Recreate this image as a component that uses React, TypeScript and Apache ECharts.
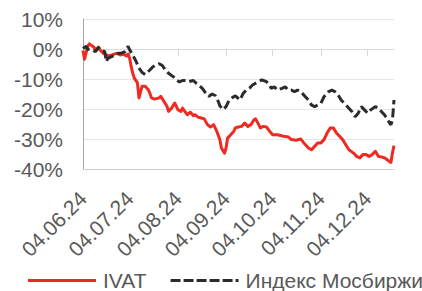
import React, { useEffect, useRef } from "react";
import * as echarts from "echarts";

// Calendar axis: every day from 04.06.24 to 21.12.24
const axisStart = [2024, 5, 4];
const axisDays = 201;
const tickLabels = ["04.06.24", "04.07.24", "04.08.24", "04.09.24", "04.10.24", "04.11.24", "04.12.24"];

// IVAT: day offset from 04.06.24 and change, %
const ivatDay = [0, 1, 3, 4, 6, 7, 8, 10, 11, 13, 15, 17, 20, 22, 24, 26, 28, 29, 30, 31, 32, 33, 35, 36, 38, 40, 42, 43, 44, 46, 49, 50, 52, 54, 55, 57, 59, 61, 63, 64, 67, 69, 71, 72, 74, 76, 78, 80, 82, 84, 85, 86, 88, 89, 91, 92, 93, 95, 97, 98, 100, 102, 104, 106, 108, 110, 111, 113, 114, 116, 118, 120, 122, 125, 129, 132, 134, 137, 140, 142, 145, 147, 149, 151, 153, 155, 157, 159, 161, 163, 165, 167, 169, 171, 174, 176, 178, 180, 182, 184, 186, 188, 190, 192, 194, 196, 198, 199, 200];
const ivatPct = [-0.5, -3.4, 0.8, 1.7, 1.0, 0.6, -0.3, 0.6, -0.3, -1.4, -2.0, -2.3, -1.7, -1.4, -2.0, -1.7, -2.3, -1.7, -3.1, -5.9, -8.1, -9.7, -11.3, -16.3, -12.4, -12.4, -13.6, -14.7, -16.3, -16.7, -16.3, -15.8, -17.4, -19.1, -20.8, -19.7, -18.0, -20.2, -20.8, -19.7, -21.9, -21.1, -22.2, -21.9, -22.7, -23.0, -23.3, -25.2, -26.0, -25.2, -26.3, -27.4, -30.2, -33.0, -34.7, -33.0, -29.7, -28.6, -27.4, -26.3, -26.0, -25.8, -24.7, -25.8, -25.2, -23.6, -23.3, -25.2, -26.3, -25.8, -26.0, -27.4, -28.6, -28.6, -29.1, -29.3, -30.2, -30.4, -30.0, -31.3, -33.0, -33.6, -32.4, -31.3, -31.3, -30.2, -28.0, -26.3, -26.3, -28.0, -29.1, -30.2, -31.9, -33.6, -34.7, -35.8, -36.3, -35.2, -35.2, -35.8, -35.2, -34.1, -35.8, -36.0, -36.3, -37.1, -37.8, -34.7, -32.2];

// Индекс Мосбиржи: day offset from 04.06.24 and change, %
const moexDay = [0, 2, 3, 6, 8, 10, 12, 14, 15, 16, 18, 21, 23, 25, 27, 29, 30, 32, 34, 36, 38, 40, 43, 45, 47, 49, 51, 53, 55, 58, 60, 62, 64, 66, 68, 71, 73, 75, 77, 79, 81, 83, 85, 87, 88, 90, 92, 94, 96, 98, 101, 103, 105, 107, 109, 111, 113, 115, 118, 120, 121, 123, 125, 128, 130, 132, 134, 136, 138, 140, 143, 145, 147, 149, 151, 153, 155, 158, 160, 162, 164, 166, 168, 170, 173, 175, 177, 179, 181, 183, 185, 188, 190, 192, 194, 196, 198, 199, 200];
const moexPct = [0.2, 0.9, -0.1, -0.3, -0.9, 0.5, -0.3, -0.9, -4.2, -3.1, -2.6, -2.0, -1.4, -1.3, -0.9, 0.9, -0.3, -2.0, -4.0, -6.4, -7.8, -8.5, -7.0, -5.9, -5.3, -4.9, -5.5, -7.0, -8.1, -9.2, -10.3, -11.0, -10.5, -10.5, -10.9, -10.5, -11.5, -12.3, -13.3, -14.8, -15.8, -15.0, -15.5, -17.5, -18.9, -20.2, -19.2, -17.0, -16.2, -15.6, -17.0, -14.8, -13.7, -13.1, -12.0, -11.4, -10.9, -10.3, -10.9, -12.0, -13.1, -12.6, -13.7, -13.1, -12.6, -13.7, -13.7, -14.2, -13.7, -14.2, -15.9, -17.0, -18.7, -19.2, -18.7, -18.1, -15.9, -14.2, -13.7, -14.2, -15.3, -17.0, -18.1, -19.2, -20.9, -22.6, -21.4, -19.2, -20.3, -21.4, -20.3, -19.2, -19.8, -20.9, -22.0, -23.7, -25.3, -23.7, -17.0];

const yTicks = { min: -40, max: 10, interval: 10 };

function buildCategories(): string[] {
  const out: string[] = [];
  for (let i = 0; i < axisDays; i++) {
    const d = new Date(axisStart[0], axisStart[1], axisStart[2] + i);
    const dd = String(d.getDate()).padStart(2, "0");
    const mm = String(d.getMonth() + 1).padStart(2, "0");
    const yy = String(d.getFullYear() % 100).padStart(2, "0");
    out.push(`${dd}.${mm}.${yy}`);
  }
  return out;
}

const FONT = "'Liberation Sans', Arial, sans-serif";
const TEXT = "#595959";
const RED = "#ee2b22";
const DARK = "#2b2b2b";

const SOLID_ICON = "path://M0,0h68v3h-68z";
const DASH_ICON =
  "path://M0,0h10v3h-10z M13,0h10v3h-10z M26,0h10v3h-10z M39,0h10v3h-10z M52,0h10v3h-10z M65,0h3v3h-3z";

export default function App() {
  const ref = useRef<HTMLDivElement>(null);
  useEffect(() => {
    if (!ref.current) return;
    const chart = echarts.init(ref.current, null, { renderer: "svg" });
    const categories = buildCategories();
    const isTick = (_i: number, v: string) => tickLabels.includes(v);
    chart.setOption({
      animation: false,
      textStyle: { fontFamily: FONT },
      grid: { left: 83, top: 19, width: 311, height: 150, containLabel: false },
      legend: {
        left: 23,
        top: 265,
        width: 900,
        orient: "horizontal",
        itemWidth: 68,
        itemHeight: 3,
        itemGap: 24,
        itemStyle: { borderWidth: 0 },
        lineStyle: { width: 0 },
        textStyle: { fontSize: 21, color: TEXT, fontFamily: FONT, padding: [0, 0, 0, 2] },
        data: [
          { name: "IVAT", icon: SOLID_ICON, itemStyle: { color: RED } },
          { name: "Индекс Мосбиржи", icon: DASH_ICON, itemStyle: { color: DARK } },
        ],
      },
      xAxis: [
        {
          type: "category",
          data: categories,
          boundaryGap: false,
          position: "bottom",
          axisLine: { onZero: false, lineStyle: { color: "#d0d0d0", width: 1 } },
          axisTick: { show: false },
          axisLabel: {
            interval: isTick,
            rotate: 45,
            margin: 26,
            fontSize: 21,
            color: TEXT,
            fontFamily: FONT,
          },
          splitLine: { show: false },
        },
        {
          type: "category",
          data: categories,
          boundaryGap: false,
          position: "bottom",
          axisLine: { onZero: true, lineStyle: { color: "#d9d9d9", width: 1 } },
          axisTick: { show: true, interval: isTick, length: 7, lineStyle: { color: "#d9d9d9", width: 1 } },
          axisLabel: { show: false },
          splitLine: { show: false },
        },
      ],
      yAxis: {
        type: "value",
        min: yTicks.min,
        max: yTicks.max,
        interval: yTicks.interval,
        axisLine: { show: true, onZero: false, lineStyle: { color: "#a6a6a6", width: 1 } },
        axisTick: { show: false },
        axisLabel: {
          formatter: (v: number) => `${v}%`,
          fontSize: 21,
          color: TEXT,
          margin: 20,
          fontFamily: FONT,
        },
        splitLine: { show: true, lineStyle: { color: "#e6e6e6", width: 1 } },
      },
      series: [
        {
          name: "IVAT",
          type: "line",
          xAxisIndex: 0,
          data: ivatDay.map((d, i) => [d, ivatPct[i]]),
          showSymbol: false,
          symbol: "none",
          lineStyle: { color: RED, width: 3, join: "round" },
          itemStyle: { color: RED },
          z: 3,
        },
        {
          name: "Индекс Мосбиржи",
          type: "line",
          xAxisIndex: 0,
          data: moexDay.map((d, i) => [d, moexPct[i]]),
          showSymbol: false,
          symbol: "none",
          lineStyle: { color: DARK, width: 3, type: [9, 4] },
          itemStyle: { color: DARK },
          z: 4,
        },
      ],
    });
    return () => chart.dispose();
  }, []);
  return (
    <div
      ref={ref}
      style={{ position: "fixed", left: 0, top: 0, width: 422, height: 291, background: "#fff" }}
    />
  );
}
